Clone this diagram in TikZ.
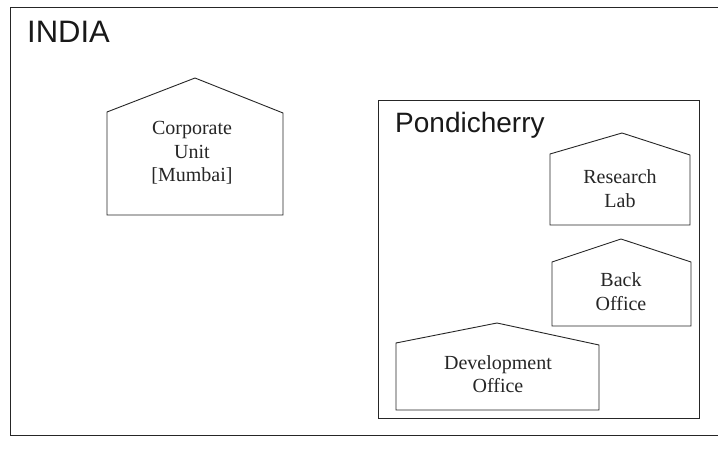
\documentclass[tikz,border=0pt]{standalone}
\usepackage{fontspec}
\setmainfont{Liberation Serif}
\newfontfamily\arialfont{Liberation Sans}
\tikzset{
  frameline/.style={draw=black!85, line width=0.9pt},
  houseline/.style={draw=black!85, line width=0.9pt, line join=miter},
  housetext/.style={align=center, inner sep=0pt, text=black!85, font=\fontsize{20}{23.5}\selectfont},
  bigtitle/.style={anchor=base west, inner sep=0pt, text=black!90, font=\arialfont\fontsize{31}{31}\selectfont},
  midtitle/.style={anchor=base west, inner sep=0pt, text=black!90, font=\arialfont\fontsize{28}{28}\selectfont}
}
\begin{document}
\begin{tikzpicture}[x=1pt,y=-1pt]
\useasboundingbox (0,0) rectangle (718,449);
\fill[white] (0,0) rectangle (718,449);
% outer frame (India), right edge runs off the picture
\draw[frameline] (722,7) -- (10,7) -- (10,435) -- (722,435);
\node[bigtitle] (india) at (27,43) {INDIA};
% Pondicherry frame
\draw[frameline] (378,100) rectangle (699,418);
\node[midtitle] (pondy) at (395,133) {Pondicherry};
% Corporate unit
\draw[houseline] (107,215) -- (107,112) -- (195,78) -- (283,113) -- (283,215) -- cycle;
\node[housetext] (corp) at (192,153) {Corporate\\Unit\\{[Mumbai]}};
% Research lab
\draw[houseline] (550,225) -- (550,154) -- (622,133) -- (690,155) -- (690,225) -- cycle;
\node[housetext] (lab) at (620,188.5) {Research\\Lab};
% Back office
\draw[houseline] (552,326) -- (552,262) -- (621,239) -- (691,262) -- (691,326) -- cycle;
\node[housetext] (back) at (621,291.5) {Back\\Office};
% Development office
\draw[houseline] (396,410) -- (396,343) -- (497,323) -- (599,345) -- (599,410) -- cycle;
\node[housetext] (dev) at (498,374) {Development\\Office};
\end{tikzpicture}
\end{document}
